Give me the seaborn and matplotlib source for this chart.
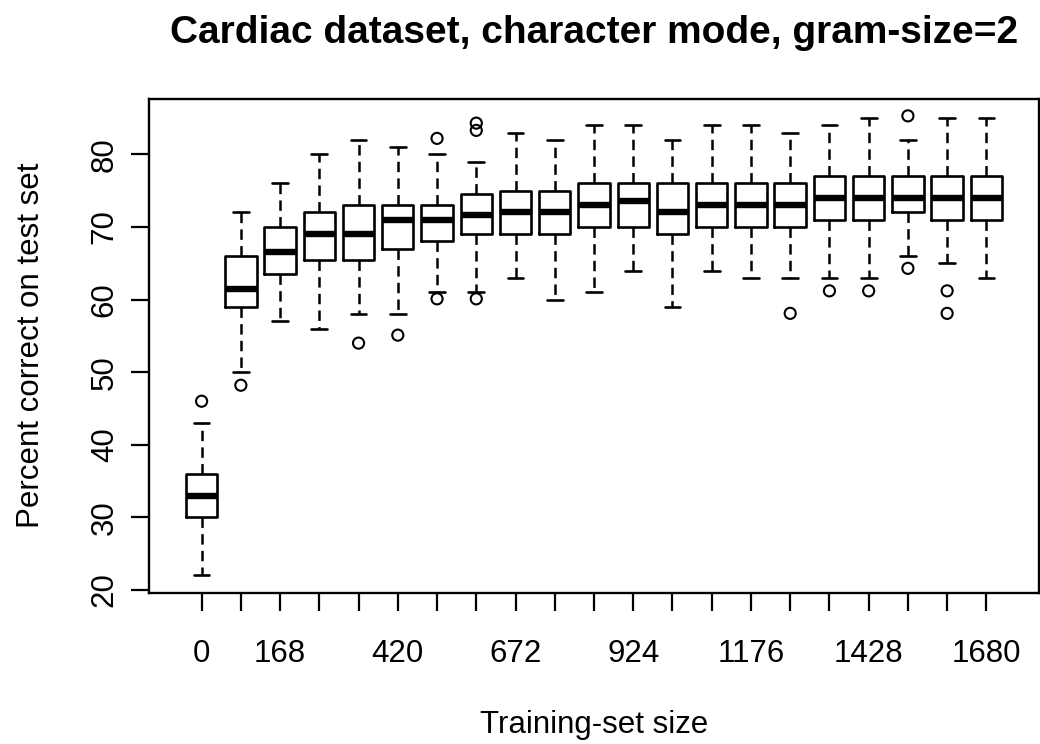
import pandas as pd
import matplotlib
matplotlib.use("Agg")
import matplotlib.pyplot as plt
import seaborn as sns

# Training-set sizes (one box per size)
sizes = [0, 84, 168, 252, 336, 420, 504, 588, 672, 756, 840,
         924, 1008, 1092, 1176, 1260, 1344, 1428, 1512, 1596, 1680]
tick_labels = ["0", "", "168", "", "", "420", "", "", "672", "", "",
               "924", "", "", "1176", "", "", "1428", "", "", "1680"]

# Five-number summaries
whisk_lo = [22, 50, 57, 56, 58, 58, 61, 61, 63, 60, 61,
            64, 59, 64, 63, 63, 63, 63, 66, 65, 63]
q1 = [30, 59, 63.5, 65.5, 65.5, 67, 68, 69, 69, 69, 70,
      70, 69, 70, 70, 70, 71, 71, 72, 71, 71]
median = [33, 61.4, 66.5, 69, 69, 71, 71, 71.6, 72, 72, 73,
          73.6, 72, 73, 73, 73, 74, 74, 74, 74, 74]
q3 = [36, 66, 70, 72, 73, 73, 73, 74.5, 75, 75, 76,
      76, 76, 76, 76, 76, 77, 77, 77, 77, 77]
whisk_hi = [43, 72, 76, 80, 82, 81, 80, 79, 83, 82, 84,
            84, 82, 84, 84, 83, 84, 85, 82, 85, 85]

# Outlying points
out_size = [0, 84, 336, 420, 504, 504, 588, 588, 588,
            1260, 1344, 1428, 1512, 1512, 1596, 1596]
out_value = [46, 48.2, 54, 55.1, 82.2, 60.1, 84.3, 83.3, 60.1,
             58.1, 61.2, 61.2, 85.3, 64.3, 61.2, 58.1]

y_ticks = [20, 30, 40, 50, 60, 70, 80]

# long table: the five summary values per box (min, q1, median, q3, max)
rows = []
for i, s in enumerate(sizes):
    for v in (whisk_lo[i], q1[i], median[i], q3[i], whisk_hi[i]):
        rows.append({"size": s, "value": v})
df = pd.DataFrame(rows)
outliers = pd.DataFrame({"size": out_size, "value": out_value})

sns.set_style("ticks")
plt.rcParams["font.family"] = ["Liberation Sans", "DejaVu Sans"]
plt.rcParams["lines.scale_dashes"] = False
for key in ("text.color", "axes.labelcolor", "xtick.color", "ytick.color",
            "axes.edgecolor"):
    plt.rcParams[key] = "black"

fig = plt.figure(figsize=(10.4, 7.44), dpi=100)
ax = fig.add_axes([0.1433, 0.2034, 0.8557, 0.6639])

sns.boxplot(data=df, x="size", y="value", order=sizes, whis=(0, 100),
            width=0.8, fill=False, color="black", linewidth=1.9,
            fliersize=0, ax=ax,
            medianprops={"color": "black", "linewidth": 4.6},
            whiskerprops={"color": "black", "linewidth": 1.8,
                          "linestyle": (0, (7.5, 4.5))},
            capprops={"color": "black", "linewidth": 1.9},
            boxprops={"color": "black", "linewidth": 1.9})

sns.stripplot(data=outliers, x="size", y="value", order=sizes, jitter=False,
              color="black", size=8, linewidth=1.5, edgecolor="black", ax=ax)
for coll in ax.collections:
    coll.set_facecolor("none")

ax.set_xlim(-1.34, 21.34)
ax.set_ylim(19.63, 87.66)
ax.set_xticks(range(len(sizes)))
ax.set_xticklabels(tick_labels)
ax.set_yticks(y_ticks)
ax.set_yticklabels([str(t) for t in y_ticks], rotation=90, va="center")

ax.tick_params(axis="x", length=13, width=1.6, pad=20.5, labelsize=22.5,
               colors="black")
ax.tick_params(axis="y", length=13, width=1.6, pad=8, labelsize=22.5,
               colors="black")
for sp in ax.spines.values():
    sp.set_visible(True)
    sp.set_color("black")
    sp.set_linewidth(1.7)

ax.set_xlabel("Training-set size", fontsize=22.5, color="black")
ax.set_ylabel("Percent correct on test set", fontsize=22.5, color="black")
ax.xaxis.set_label_coords(0.5, -0.2375)
ax.yaxis.set_label_coords(-0.1158, 0.5)
ax.set_title("Cardiac dataset, character mode, gram-size=2",
             fontsize=28, fontweight="bold", pad=40.3, color="black")

plt.savefig("out.png", dpi=100, facecolor="white")
